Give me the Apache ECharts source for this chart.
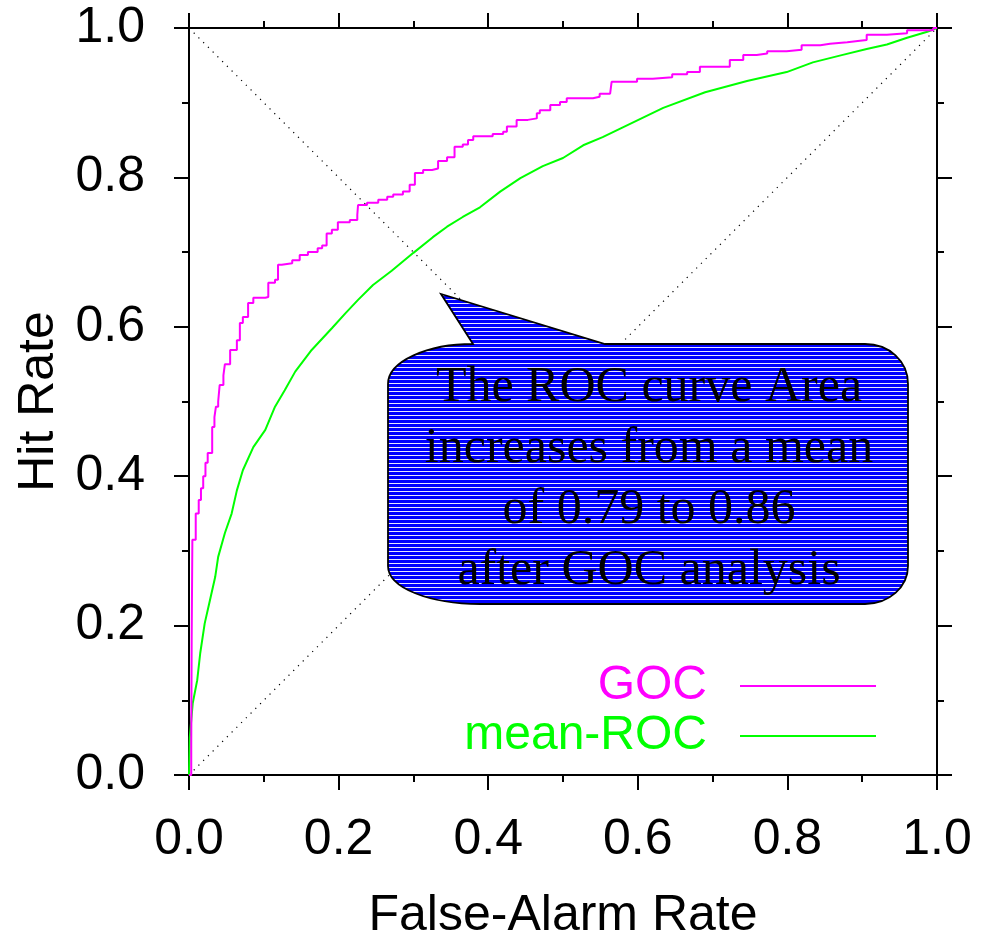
<!DOCTYPE html>
<html>
<head>
<meta charset="utf-8">
<script src="https://cdn.jsdelivr.net/npm/echarts@6/dist/echarts.min.js"></script>
<style>
html,body{margin:0;padding:0;background:#fff;overflow:hidden;}
#chart{width:989px;height:935px;}
</style>
</head>
<body>
<div id="chart"></div>
<script>
// ---- data ----
var xTicks = [0, 0.2, 0.4, 0.6, 0.8, 1.0];
var yTicks = [0, 0.2, 0.4, 0.6, 0.8, 1.0];

var gocFar = [0, 0.003, 0.0036, 0.0045, 0.009, 0.013, 0.016, 0.019, 0.022, 0.025, 0.031, 0.034, 0.036, 0.039, 0.041, 0.046, 0.048, 0.055, 0.064, 0.068, 0.072, 0.079, 0.086, 0.102, 0.106, 0.115, 0.119, 0.124, 0.138, 0.148, 0.159, 0.172, 0.178, 0.184, 0.191, 0.199, 0.215, 0.225, 0.226, 0.238, 0.253, 0.265, 0.273, 0.286, 0.295, 0.302, 0.313, 0.325, 0.333, 0.345, 0.355, 0.366, 0.373, 0.380, 0.406, 0.420, 0.425, 0.438, 0.453, 0.465, 0.469, 0.483, 0.496, 0.505, 0.540, 0.549, 0.563, 0.565, 0.599, 0.620, 0.646, 0.666, 0.683, 0.723, 0.741, 0.759, 0.773, 0.799, 0.819, 0.844, 0.857, 0.880, 0.897, 0.906, 0.933, 0.960, 0.995, 1.0];
var gocHit = [0, 0.04, 0.185, 0.315, 0.35, 0.368, 0.384, 0.40, 0.418, 0.431, 0.466, 0.479, 0.493, 0.50, 0.522, 0.535, 0.55, 0.569, 0.582, 0.605, 0.613, 0.632, 0.639, 0.64, 0.659, 0.663, 0.683, 0.685, 0.689, 0.696, 0.70, 0.705, 0.709, 0.725, 0.73, 0.74, 0.743, 0.75, 0.763, 0.766, 0.77, 0.774, 0.777, 0.781, 0.79, 0.806, 0.81, 0.812, 0.822, 0.827, 0.841, 0.844, 0.85, 0.855, 0.858, 0.861, 0.868, 0.877, 0.879, 0.886, 0.89, 0.897, 0.901, 0.906, 0.908, 0.912, 0.913, 0.928, 0.932, 0.934, 0.938, 0.941, 0.948, 0.957, 0.964, 0.966, 0.969, 0.971, 0.977, 0.979, 0.981, 0.983, 0.984, 0.991, 0.993, 0.997, 1.0, 1.0];

var rocFar = [0, 0.001, 0.005, 0.011, 0.015, 0.021, 0.028, 0.035, 0.039, 0.048, 0.057, 0.064, 0.072, 0.086, 0.102, 0.115, 0.128, 0.142, 0.164, 0.191, 0.209, 0.226, 0.246, 0.271, 0.300, 0.326, 0.345, 0.366, 0.389, 0.416, 0.443, 0.473, 0.500, 0.527, 0.553, 0.580, 0.634, 0.690, 0.746, 0.799, 0.834, 0.874, 0.906, 0.933, 0.960, 0.987, 1.0];
var rocHit = [0, 0.05, 0.096, 0.127, 0.163, 0.203, 0.234, 0.265, 0.292, 0.324, 0.35, 0.381, 0.408, 0.439, 0.462, 0.493, 0.515, 0.540, 0.569, 0.598, 0.618, 0.636, 0.656, 0.675, 0.699, 0.72, 0.734, 0.747, 0.76, 0.781, 0.799, 0.815, 0.826, 0.843, 0.854, 0.867, 0.893, 0.914, 0.929, 0.941, 0.954, 0.964, 0.972, 0.978, 0.987, 0.995, 1.0];

var diagX = [0, 1];
var diagY = [0, 1];
var antiX = [0, 0.5];
var antiY = [1, 0.5];

var seriesNames = ['GOC', 'mean-ROC'];
var calloutLines = ['The ROC curve Area', 'increases from a mean', 'of 0.79 to 0.86', 'after GOC analysis'];
var xTitle = 'False-Alarm Rate';
var yTitle = 'Hit Rate';

function zip(a, b) { return a.map(function (v, i) { return [v, b[i]]; }); }

// ---- styling ----
var MAGENTA = '#ff00ff', GREEN = '#00ff00';
var SANS = '"Liberation Sans", Arial, sans-serif';
var SERIF = '"Liberation Serif", "Times New Roman", serif';

function stripeCanvas() {
  var c = document.createElement('canvas');
  c.width = 4; c.height = 4;
  var g = c.getContext('2d');
  g.fillStyle = 'rgba(255,255,255,0.9)';
  g.fillRect(0, 3, 4, 1);
  return c;
}

// speech-bubble outline (pixel layout of the annotation box)
var Callout = echarts.graphic.extendShape({
  shape: {},
  buildPath: function (ctx) {
    ctx.moveTo(473, 344);
    ctx.lineTo(441, 294);
    ctx.lineTo(605, 344);
    ctx.lineTo(865, 344);
    ctx.bezierCurveTo(889, 344, 908, 361, 908, 384);
    ctx.lineTo(908, 566);
    ctx.bezierCurveTo(908, 587, 889, 604, 865, 604);
    ctx.lineTo(480, 604);
    ctx.bezierCurveTo(430, 604, 388, 588, 388, 566);
    ctx.lineTo(388, 384);
    ctx.bezierCurveTo(388, 361, 428, 344, 473, 344);
    ctx.closePath();
  }
});
echarts.graphic.registerShape('callout', Callout);

var tickCommon = {
  axisLine: { show: true, onZero: false, lineStyle: { color: '#000', width: 2 } },
  axisTick: { show: true, length: 15, lineStyle: { color: '#000', width: 2 } },
  minorTick: { show: true, splitNumber: 2, length: 7, lineStyle: { color: '#000', width: 2 } },
  splitLine: { show: false },
  minorSplitLine: { show: false }
};

function axis(extra) {
  return Object.assign({ type: 'value', min: 0, max: 1, interval: 0.2 }, JSON.parse(JSON.stringify(tickCommon)), extra);
}

var chart = echarts.init(document.getElementById('chart'), null, { renderer: 'canvas', width: 989, height: 935 });

var option = {
  animation: false,
  backgroundColor: '#fff',
  grid: { left: 189, top: 28, width: 748, height: 747, containLabel: false, outerBoundsMode: 'none' },
  xAxis: [
    axis({
      position: 'bottom',
      axisLabel: { margin: 40, fontSize: 50, color: '#000', fontFamily: SANS, formatter: function (v) { return v.toFixed(1); } },
      name: xTitle, nameLocation: 'middle', nameGap: 116,
      nameTextStyle: { fontSize: 50, color: '#000', fontFamily: SANS }
    }),
    axis({ position: 'top', axisLabel: { show: false } })
  ],
  yAxis: [
    axis({
      position: 'left',
      axisLabel: { margin: 44, fontSize: 50, color: '#000', fontFamily: SANS, formatter: function (v) { return v.toFixed(1); } },
      name: yTitle, nameLocation: 'middle', nameGap: 120, nameRotate: 90,
      nameTextStyle: { fontSize: 50, color: '#000', fontFamily: SANS }
    }),
    axis({ position: 'right', axisLabel: { show: false } })
  ],
  legend: [
    {
      data: [seriesNames[0]], selectedMode: false, right: 113, top: 662, padding: 0,
      align: 'right', icon: 'rect', itemWidth: 136, itemHeight: 2,
      textStyle: { fontSize: 48, color: MAGENTA, fontFamily: SANS, padding: [0, 28, 0, 0] }
    },
    {
      data: [seriesNames[1]], selectedMode: false, right: 113, top: 712, padding: 0,
      align: 'right', icon: 'rect', itemWidth: 136, itemHeight: 2,
      textStyle: { fontSize: 48, color: GREEN, fontFamily: SANS, padding: [0, 28, 0, 0] }
    }
  ],
  series: [
    {
      type: 'line', name: 'diag', data: zip(diagX, diagY), symbol: 'none', silent: true,
      lineStyle: { color: '#000', width: 1.2, type: [1.2, 5.5] }, z: 1
    },
    {
      type: 'line', name: 'anti', data: zip(antiX, antiY), symbol: 'none', silent: true,
      lineStyle: { color: '#000', width: 1.2, type: [1.2, 5.5] }, z: 1
    },
    {
      type: 'line', name: seriesNames[1], data: zip(rocFar, rocHit), symbol: 'none', showSymbol: false,
      color: GREEN, lineStyle: { color: GREEN, width: 2 }, z: 3
    },
    {
      type: 'line', name: seriesNames[0], data: zip(gocFar, gocHit), step: 'end', symbol: 'none', showSymbol: false,
      color: MAGENTA, lineStyle: { color: MAGENTA, width: 2 }, z: 4
    }
  ],
  graphic: [
    { type: 'callout', z: 100, shape: {}, style: { fill: '#0000ff', stroke: null } },
    { type: 'callout', z: 101, shape: {}, style: { fill: { type: 'pattern', image: stripeCanvas(), repeat: 'repeat' }, stroke: null } },
    {
      type: 'text', z: 102, x: 649, y: 479,
      style: { text: calloutLines.join('\n'), font: '50px ' + SERIF, fill: '#000', align: 'center', verticalAlign: 'middle', lineHeight: 61 }
    },
    { type: 'callout', z: 103, shape: {}, style: { fill: null, stroke: '#000', lineWidth: 1.8 } }
  ]
};

chart.setOption(option);
</script>
</body>
</html>
